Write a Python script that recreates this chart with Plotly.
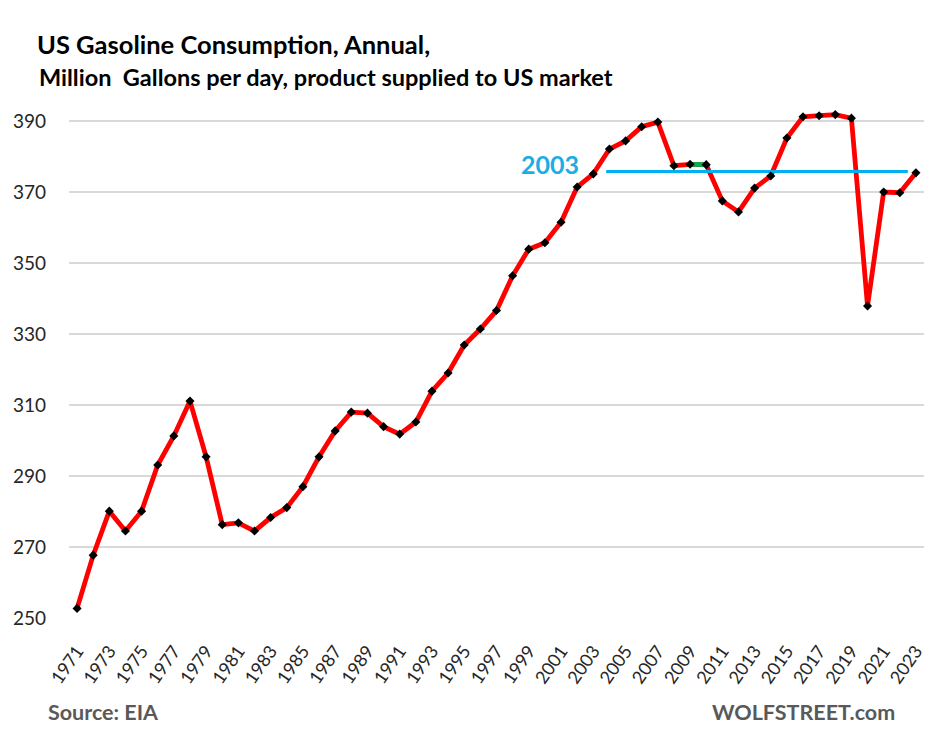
import plotly.graph_objects as go

# ---------------- data ----------------
years = list(range(1971, 2024))
consumption = [
    252.7, 267.7, 280.1, 274.5, 280.1, 293.1, 301.3, 311.1, 295.4, 276.3,
    276.8, 274.5, 278.3, 281.1, 287.0, 295.4, 302.7, 308.0, 307.7, 303.9,
    301.8, 305.2, 313.9, 319.0, 326.9, 331.4, 336.6, 346.4, 353.9, 355.7,
    361.5, 371.4, 375.1, 382.1, 384.4, 388.4, 389.7, 377.4, 377.8, 377.7,
    367.5, 364.4, 371.1, 374.5, 385.2, 391.2, 391.5, 391.8, 390.8, 337.9,
    370.0, 369.8, 375.4,
]
green_years = [2009, 2010]
ref_label = "2003"
ref_level = 375.8
ref_line_years = [2003.8, 2022.5]
x_tick_years = list(range(1971, 2024, 2))
x_tick_labels = [str(y) for y in x_tick_years]
y_tick_values = list(range(250, 391, 20))
y_tick_labels = [str(v) for v in y_tick_values]

# ---------------- layout constants ----------------
OFF = 8                      # page body margin
W, H = 937 - 2 * OFF, 734 - 2 * OFF
ML, MT = 69 - OFF, 110 - OFF
MR = W - (927 - OFF)
MB = H - (618 - OFF)
PW, PH = W - ML - MR, H - MT - MB


def px(xp):
    return (xp - OFF - ML) / PW


def py(yp):
    return (H - MB - (yp - OFF)) / PH


green_vals = [consumption[years.index(y)] for y in green_years]

fig = go.Figure()
fig.add_trace(go.Scatter(x=years, y=consumption, mode="lines",
                         line=dict(color="#FF0000", width=4.8),
                         hoverinfo="skip", showlegend=False))
fig.add_trace(go.Scatter(x=green_years, y=green_vals, mode="lines",
                         line=dict(color="#00B050", width=4.8),
                         hoverinfo="skip", showlegend=False))
fig.add_trace(go.Scatter(x=ref_line_years, y=[ref_level, ref_level], mode="lines",
                         line=dict(color="#00B0F0", width=3),
                         hoverinfo="skip", showlegend=False))
fig.add_trace(go.Scatter(x=years, y=consumption, mode="markers",
                         marker=dict(symbol="diamond", color="#000000", size=7),
                         cliponaxis=False, showlegend=False))

fig.add_annotation(x=2003, y=ref_level, xref="x", yref="y", text=ref_label,
                   showarrow=False, xanchor="right", yanchor="bottom",
                   xshift=-12, yshift=-10,
                   font=dict(family="Lato", size=25, color="#1CADE4", weight="bold"))

title_font = dict(family="Lato", color="#000000", weight="bold")
fig.add_annotation(x=px(35), y=py(44), xref="paper", yref="paper",
                   text="US Gasoline Consumption, Annual,", showarrow=False,
                   xanchor="left", yanchor="middle",
                   font=dict(size=25.5, **title_font))
fig.add_annotation(x=px(37), y=py(77), xref="paper", yref="paper",
                   text="Million  Gallons per day, product supplied to US market",
                   showarrow=False, xanchor="left", yanchor="middle",
                   font=dict(size=23.5, **title_font))
foot_font = dict(family="Lato", size=21.5, color="#595959", weight="bold")
fig.add_annotation(x=px(46), y=py(712), xref="paper", yref="paper",
                   text="Source: EIA", showarrow=False,
                   xanchor="left", yanchor="middle", font=foot_font)
fig.add_annotation(x=px(900), y=py(712), xref="paper", yref="paper",
                   text="WOLFSTREET.com", showarrow=False,
                   xanchor="right", yanchor="middle", font=foot_font)

fig.update_layout(
    width=W, height=H,
    margin=dict(l=ML, r=MR, t=MT, b=MB),
    paper_bgcolor="#FFFFFF", plot_bgcolor="#FFFFFF",
    showlegend=False,
    xaxis=dict(range=[1970.5, 2023.5], tickvals=x_tick_years, ticktext=x_tick_labels,
               tickangle=-55, showgrid=False, zeroline=False, showline=False,
               ticks="", ticklabelstandoff=18, ticklabeloverflow="allow",
               tickfont=dict(family="Lato", size=18, color="#262626"),
               fixedrange=True),
    yaxis=dict(range=[250, 393.1], tickvals=y_tick_values, ticktext=y_tick_labels,
               showgrid=True, gridcolor="#D9D9D9", gridwidth=1.5, zeroline=False,
               showline=False, ticks="", ticklabelstandoff=22,
               tickfont=dict(family="Lato", size=19, color="#262626"),
               fixedrange=True),
)

fig.write_html("out.html")
